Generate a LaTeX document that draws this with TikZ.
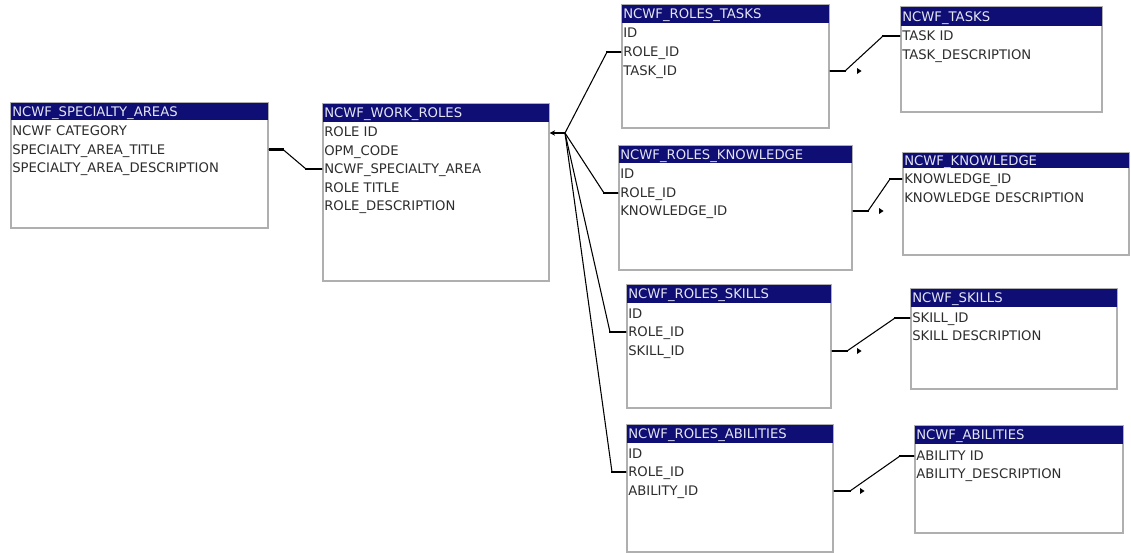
\documentclass[tikz,border=0pt]{standalone}
\usepackage{fontspec}
\setmainfont{DejaVu Sans}
\usepackage{tikz}
\usetikzlibrary{fit,positioning,arrows.meta}

\definecolor{hdrblue}{RGB}{14,14,116}
\definecolor{hdrtext}{RGB}{228,228,242}
\definecolor{fldtext}{RGB}{45,45,45}
\definecolor{boxgray}{RGB}{175,175,175}

\begin{document}
\begin{tikzpicture}[x=0.75pt, y=-0.75pt,
        tbl/.style={draw=boxgray, line width=1.1pt, fill=white, inner sep=0pt},
        hdr/.style={fill=hdrblue, inner sep=0pt},
        hlabel/.style={inner sep=0pt, text height=7.2pt, text depth=0pt, text=hdrtext, font=\fontsize{9.9}{11}\selectfont},
        fld/.style={anchor=west, inner sep=0pt, text height=7.2pt, text depth=0pt, text=fldtext, font=\fontsize{9.9}{11}\selectfont},
        link/.style={draw=black, line width=0.8pt},
        stub/.style={draw=black, line width=1.6pt}]
        \useasboundingbox (0,0) rectangle (1131,553);

        % NCWF_SPECIALTY_AREAS
        \node[tbl, fit={(11,103) (268,228)}] (areas) {};
        \node[hdr, fit={(11,103) (268,120)}] (areas-h) {};
        \node[hlabel, right=1pt of areas-h.west] (areas-t) {NCWF\_SPECIALTY\_AREAS};
        \node[fld] (ar-cat) at (12,131) {NCWF CATEGORY};
        \node[fld] (ar-title) at (12,149.5) {SPECIALTY\_AREA\_TITLE};
        \node[fld] (ar-desc) at (12,168) {SPECIALTY\_AREA\_DESCRIPTION};

        % NCWF_WORK_ROLES
        \node[tbl, fit={(323,104) (549,281)}] (roles) {};
        \node[hdr, fit={(323,104) (549,122)}] (roles-h) {};
        \node[hlabel, right=1pt of roles-h.west] (roles-t) {NCWF\_WORK\_ROLES};
        \node[fld] (wr-id) at (324,132) {ROLE ID};
        \node[fld] (wr-opm) at (324,150.5) {OPM\_CODE};
        \node[fld] (wr-area) at (324,169) {NCWF\_SPECIALTY\_AREA};
        \node[fld] (wr-title) at (324,187.5) {ROLE TITLE};
        \node[fld] (wr-desc) at (324,206) {ROLE\_DESCRIPTION};

        % NCWF_ROLES_TASKS and NCWF_TASKS
        \node[tbl, fit={(622,5) (829,128)}] (rtasks) {};
        \node[hdr, fit={(622,5) (829,23)}] (rtasks-h) {};
        \node[hlabel, right=1pt of rtasks-h.west] (rtasks-t) {NCWF\_ROLES\_TASKS};
        \node[fld] (rt-id) at (623,33) {ID};
        \node[fld] (rt-role) at (623,52) {ROLE\_ID};
        \node[fld] (rt-task) at (623,71) {TASK\_ID};

        \node[tbl, fit={(901,7) (1102,112)}] (tasks) {};
        \node[hdr, fit={(901,7) (1102,26)}] (tasks-h) {};
        \node[hlabel, right=1pt of tasks-h.west] (tasks-t) {NCWF\_TASKS};
        \node[fld] (tk-id) at (902,36) {TASK ID};
        \node[fld] (tk-desc) at (902,55) {TASK\_DESCRIPTION};

        % NCWF_ROLES_KNOWLEDGE and NCWF_KNOWLEDGE
        \node[tbl, fit={(619,146) (852,270)}] (rknow) {};
        \node[hdr, fit={(619,146) (852,163)}] (rknow-h) {};
        \node[hlabel, right=1pt of rknow-h.west] (rknow-t) {NCWF\_ROLES\_KNOWLEDGE};
        \node[fld] (rk-id) at (620,174) {ID};
        \node[fld] (rk-role) at (620,193) {ROLE\_ID};
        \node[fld] (rk-know) at (620,211) {KNOWLEDGE\_ID};

        \node[tbl, fit={(903,153) (1129,255)}] (know) {};
        \node[hdr, fit={(903,153) (1129,168)}] (know-h) {};
        \node[hlabel, right=1pt of know-h.west] (know-t) {NCWF\_KNOWLEDGE};
        \node[fld] (kn-id) at (904,179) {KNOWLEDGE\_ID};
        \node[fld] (kn-desc) at (904,198) {KNOWLEDGE DESCRIPTION};

        % NCWF_ROLES_SKILLS and NCWF_SKILLS
        \node[tbl, fit={(627,285) (831,408)}] (rskill) {};
        \node[hdr, fit={(627,285) (831,303)}] (rskill-h) {};
        \node[hlabel, right=1pt of rskill-h.west] (rskill-t) {NCWF\_ROLES\_SKILLS};
        \node[fld] (rs-id) at (628,314) {ID};
        \node[fld] (rs-role) at (628,332) {ROLE\_ID};
        \node[fld] (rs-skill) at (628,351) {SKILL\_ID};

        \node[tbl, fit={(911,289) (1117,389)}] (skill) {};
        \node[hdr, fit={(911,289) (1117,307)}] (skill-h) {};
        \node[hlabel, right=1pt of skill-h.west] (skill-t) {NCWF\_SKILLS};
        \node[fld] (sk-id) at (912,318) {SKILL\_ID};
        \node[fld] (sk-desc) at (912,336) {SKILL DESCRIPTION};

        % NCWF_ROLES_ABILITIES and NCWF_ABILITIES
        \node[tbl, fit={(627,425) (833,552)}] (rabil) {};
        \node[hdr, fit={(627,425) (833,443)}] (rabil-h) {};
        \node[hlabel, right=1pt of rabil-h.west] (rabil-t) {NCWF\_ROLES\_ABILITIES};
        \node[fld] (ra-id) at (628,454) {ID};
        \node[fld] (ra-role) at (628,472) {ROLE\_ID};
        \node[fld] (ra-abil) at (628,491) {ABILITY\_ID};

        \node[tbl, fit={(915,426) (1123,533)}] (abil) {};
        \node[hdr, fit={(915,426) (1123,444)}] (abil-h) {};
        \node[hlabel, right=1pt of abil-h.west] (abil-t) {NCWF\_ABILITIES};
        \node[fld] (ab-id) at (916,456) {ABILITY ID};
        \node[fld] (ab-desc) at (916,474) {ABILITY\_DESCRIPTION};

        % specialty area -> work role
        \draw[link] (areas.east |- ar-title) -- (283,149.5) -- (306,169) -- (roles.west |- wr-area);
        \draw[stub] (areas.east |- ar-title) -- ++(15,0);
        \draw[stub] (roles.west |- wr-area) -- ++(-17,0);

        % work role -> the four link tables
        \coordinate (hub) at (565,133);
        \draw[stub, -{Stealth[length=4pt, width=4pt]}] (hub) -- (roles.east |- hub);
        \draw[link] (hub) -- (607,52) -- (rtasks.west |- rt-role);
        \draw[stub] (rtasks.west |- rt-role) -- ++(-15,0);
        \draw[link] (hub) -- (604,193) -- (rknow.west |- rk-role);
        \draw[stub] (rknow.west |- rk-role) -- ++(-15,0);
        \draw[link] (hub) -- (610,332) -- (rskill.west |- rs-role);
        \draw[stub] (rskill.west |- rs-role) -- ++(-17,0);
        \draw[link] (hub) -- (612,472) -- (rabil.west |- ra-role);
        \draw[stub] (rabil.west |- ra-role) -- ++(-15,0);

        % link tables -> lookup tables
        \draw[link] (rtasks.east |- rt-task) -- (845,71) -- (883,36) -- (tasks.west |- tk-id);
        \draw[stub] (rtasks.east |- rt-task) -- ++(16,0);
        \draw[stub] (tasks.west |- tk-id) -- ++(-18,0);
        \fill (857,68) -- ++(4.5,3) -- ++(-4.5,3) -- cycle;

        \draw[link] (rknow.east |- rk-know) -- (868,211) -- (890,179) -- (know.west |- kn-id);
        \draw[stub] (rknow.east |- rk-know) -- ++(16,0);
        \draw[stub] (know.west |- kn-id) -- ++(-13,0);
        \fill (879,208) -- ++(4.5,3) -- ++(-4.5,3) -- cycle;

        \draw[link] (rskill.east |- rs-skill) -- (847,351) -- (895,318) -- (skill.west |- sk-id);
        \draw[stub] (rskill.east |- rs-skill) -- ++(16,0);
        \draw[stub] (skill.west |- sk-id) -- ++(-16,0);
        \fill (857,348) -- ++(4.5,3) -- ++(-4.5,3) -- cycle;

        \draw[link] (rabil.east |- ra-abil) -- (850,491) -- (900,456) -- (abil.west |- ab-id);
        \draw[stub] (rabil.east |- ra-abil) -- ++(17,0);
        \draw[stub] (abil.west |- ab-id) -- ++(-15,0);
        \fill (860,488) -- ++(4.5,3) -- ++(-4.5,3) -- cycle;
\end{tikzpicture}
\end{document}
